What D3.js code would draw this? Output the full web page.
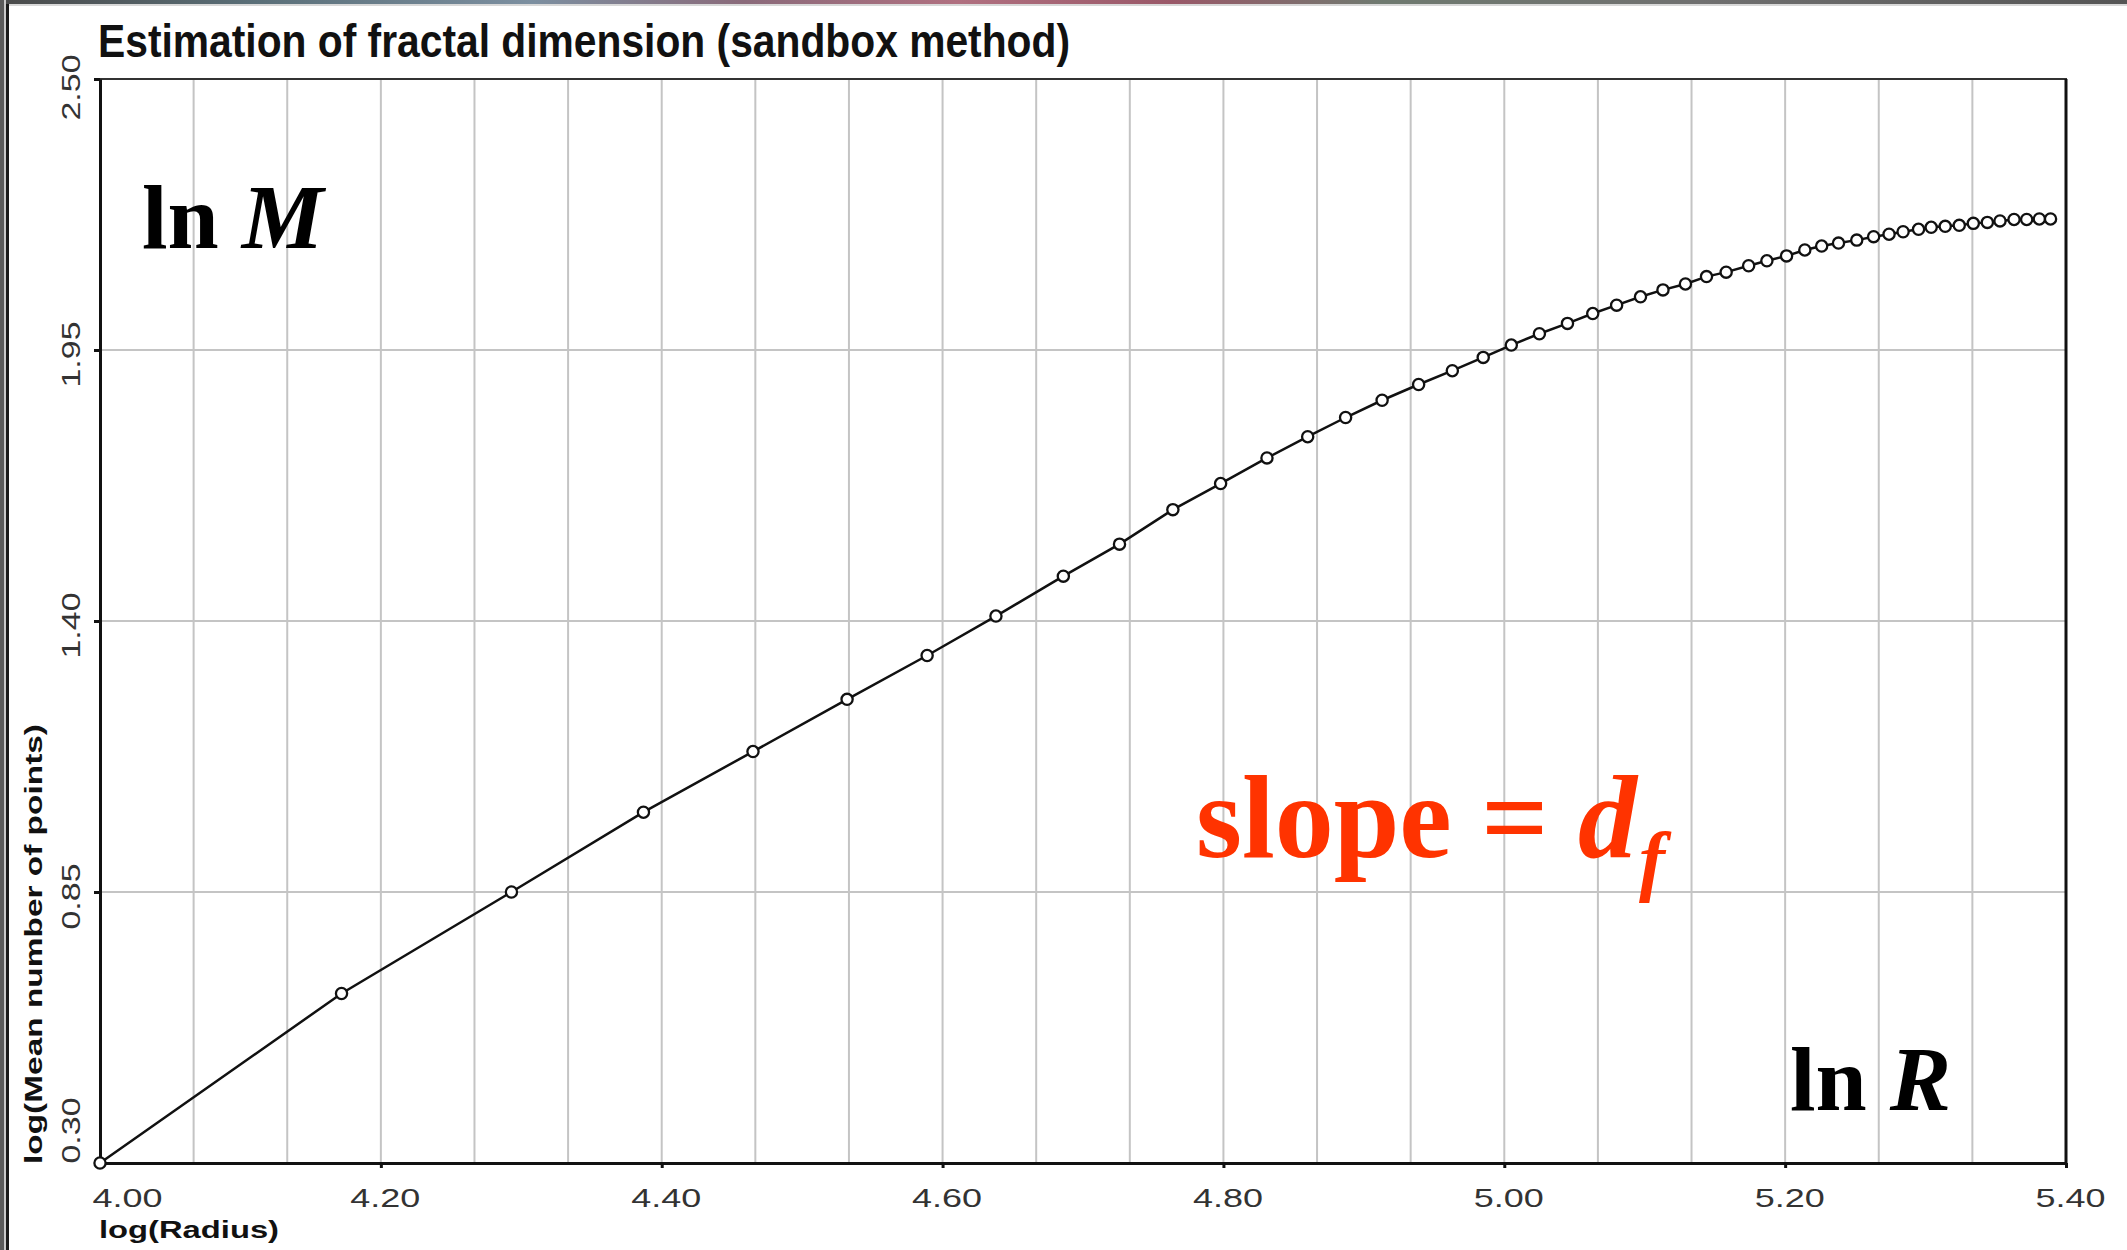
<!DOCTYPE html>
<html>
<head>
<meta charset="utf-8">
<script src="https://cdn.jsdelivr.net/npm/d3@7/dist/d3.min.js"></script>
<style>
  html, body { margin: 0; padding: 0; background: #ffffff; }
  svg { display: block; }
</style>
</head>
<body>
<svg id="chart" width="2127" height="1250"></svg>
<script>
// Sandbox-method estimate: log(Radius) vs log(Mean number of points)
const logRadius = [
  4.000, 4.172, 4.293, 4.387, 4.465, 4.532, 4.589, 4.638, 4.686, 4.726,
  4.764, 4.798, 4.831, 4.860, 4.887, 4.913, 4.939, 4.963, 4.985, 5.005,
  5.025, 5.045, 5.063, 5.080, 5.097, 5.113, 5.129, 5.144, 5.158, 5.174,
  5.187, 5.201, 5.214, 5.226, 5.238, 5.251, 5.263, 5.274, 5.284, 5.295,
  5.304, 5.314, 5.324, 5.334, 5.344, 5.353, 5.363, 5.372, 5.381, 5.389
];
const logMeanPoints = [
  0.300, 0.644, 0.850, 1.012, 1.135, 1.241, 1.330, 1.410, 1.491, 1.556,
  1.626, 1.679, 1.731, 1.774, 1.813, 1.848, 1.880, 1.908, 1.935, 1.960,
  1.983, 2.004, 2.024, 2.041, 2.058, 2.072, 2.084, 2.099, 2.108, 2.121,
  2.131, 2.141, 2.153, 2.161, 2.167, 2.173, 2.180, 2.185, 2.190, 2.195,
  2.199, 2.201, 2.203, 2.207, 2.209, 2.212, 2.215, 2.215, 2.216, 2.216
];
const xTickValues = [4.00, 4.20, 4.40, 4.60, 4.80, 5.00, 5.20, 5.40];
const yTickValues = [0.30, 0.85, 1.40, 1.95, 2.50];
const xDomain = [4.00, 5.40];
const yDomain = [0.30, 2.50];
const xGridStep = 0.2 / 3;

const chartTitle = "Estimation of fractal dimension (sandbox method)";
const xAxisTitle = "log(Radius)";
const yAxisTitle = "log(Mean number of points)";

const svg = d3.select("#chart");
const plot = { left: 100, right: 2066, top: 79, bottom: 1163 };

const x = d3.scaleLinear().domain(xDomain).range([plot.left, plot.right]);
const y = d3.scaleLinear().domain(yDomain).range([plot.bottom, plot.top]);

// window frame edges
const defs = svg.append("defs");
const strip = defs.append("linearGradient").attr("id", "strip");
[["0%", "#4a4a4a"], ["12%", "#5a6f78"], ["25%", "#7c8fa0"], ["35%", "#8a6a7a"],
 ["45%", "#b07080"], ["55%", "#9a5868"], ["65%", "#6f7a70"], ["80%", "#707070"], ["100%", "#555"]]
  .forEach(([o, c]) => strip.append("stop").attr("offset", o).attr("stop-color", c));
svg.append("rect").attr("x", 0).attr("y", 0).attr("width", 2127).attr("height", 4).attr("fill", "url(#strip)");
svg.append("rect").attr("x", 0).attr("y", 4).attr("width", 2127).attr("height", 2).attr("fill", "#d8d8d8");
svg.append("rect").attr("x", 0).attr("y", 0).attr("width", 4).attr("height", 1250).attr("fill", "#5a5a5a");
svg.append("rect").attr("x", 4).attr("y", 0).attr("width", 2).attr("height", 1250).attr("fill", "#c8c8c8");
svg.append("rect").attr("x", 6).attr("y", 4).attr("width", 3).attr("height", 1246).attr("fill", "#1a1a1a");

// grid
const grid = svg.append("g").attr("class", "grid");
const xGridValues = d3.range(1, Math.round((xDomain[1] - xDomain[0]) / xGridStep))
  .map(i => xDomain[0] + i * xGridStep);
grid.selectAll("line.vx").data(xGridValues).join("line")
  .attr("x1", d => x(d)).attr("x2", d => x(d))
  .attr("y1", plot.top).attr("y2", plot.bottom)
  .attr("stroke", "#c4c4c4").attr("stroke-width", 2);
grid.selectAll("line.hy").data(yTickValues.slice(1, -1)).join("line")
  .attr("x1", plot.left).attr("x2", plot.right)
  .attr("y1", d => y(d)).attr("y2", d => y(d))
  .attr("stroke", "#c4c4c4").attr("stroke-width", 2);

// frame
svg.append("line").attr("x1", plot.left).attr("x2", plot.right + 1)
  .attr("y1", plot.top).attr("y2", plot.top).attr("stroke", "#333").attr("stroke-width", 2);
svg.append("line").attr("x1", plot.right).attr("x2", plot.right)
  .attr("y1", plot.top).attr("y2", plot.bottom).attr("stroke", "#111").attr("stroke-width", 3);

// axes
const xAxis = d3.axisBottom(x).tickValues(xTickValues).tickSize(5).tickSizeOuter(0)
  .tickFormat(d3.format(".2f"));
const gx = svg.append("g").attr("transform", `translate(0,${plot.bottom})`).call(xAxis);
gx.select(".domain").attr("stroke", "#111").attr("stroke-width", 3);
gx.selectAll(".tick line").attr("stroke", "#111").attr("stroke-width", 3);
gx.selectAll(".tick text")
  .attr("y", 44).attr("dy", null)
  .attr("font-family", "'Liberation Sans', Arial, sans-serif")
  .attr("font-size", 25).attr("fill", "#333")
  .attr("textLength", 70).attr("lengthAdjust", "spacingAndGlyphs")
  .attr("dx", (d, i) => i === 0 ? 27 : 4);

const yAxis = d3.axisLeft(y).tickValues(yTickValues).tickSize(6).tickSizeOuter(0)
  .tickFormat(d3.format(".2f"));
const gy = svg.append("g").attr("transform", `translate(${plot.left},0)`).call(yAxis);
gy.select(".domain").attr("stroke", "#111").attr("stroke-width", 3);
gy.selectAll(".tick line").attr("stroke", "#111").attr("stroke-width", 3);
gy.selectAll(".tick text")
  .attr("x", null).attr("dy", null)
  .attr("transform", (d, i) => {
    const shift = i === 0 ? -33 : (i === yTickValues.length - 1 ? 8 : 4);
    return `translate(-20,${shift}) rotate(-90)`;
  })
  .attr("text-anchor", "middle")
  .attr("font-family", "'Liberation Sans', Arial, sans-serif")
  .attr("font-size", 25).attr("fill", "#333")
  .attr("textLength", 66).attr("lengthAdjust", "spacingAndGlyphs");

// series line and hollow markers
const data = logRadius.map((r, i) => ({ r, m: logMeanPoints[i] }));
svg.append("path").datum(data)
  .attr("fill", "none").attr("stroke", "#111").attr("stroke-width", 2.5)
  .attr("d", d3.line().x(d => x(d.r)).y(d => y(d.m)));
svg.append("g").selectAll("circle").data(data).join("circle")
  .attr("cx", d => x(d.r)).attr("cy", d => y(d.m)).attr("r", 5.6)
  .attr("fill", "#fff").attr("stroke", "#111").attr("stroke-width", 2.3);

// titles
svg.append("text").attr("x", 98).attr("y", 57)
  .attr("font-family", "'Liberation Sans Narrow', 'Liberation Sans', Arial, sans-serif")
  .attr("font-weight", "bold").attr("font-size", 46).attr("fill", "#111")
  .attr("textLength", 972).attr("lengthAdjust", "spacingAndGlyphs")
  .text(chartTitle);

svg.append("text").attr("x", 99).attr("y", 1238)
  .attr("font-family", "'Liberation Sans', Arial, sans-serif")
  .attr("font-weight", "bold").attr("font-size", 23).attr("fill", "#111")
  .attr("textLength", 180).attr("lengthAdjust", "spacingAndGlyphs")
  .text(xAxisTitle);

svg.append("text").attr("transform", "translate(42,944) rotate(-90)")
  .attr("text-anchor", "middle")
  .attr("font-family", "'Liberation Sans Narrow', 'Liberation Sans', Arial, sans-serif")
  .attr("font-weight", "bold").attr("font-size", 24).attr("fill", "#111")
  .attr("textLength", 440).attr("lengthAdjust", "spacingAndGlyphs")
  .text(yAxisTitle);

// annotations
const serif = "'Liberation Serif', 'Times New Roman', serif";
const lnM = svg.append("text").attr("x", 142).attr("y", 248)
  .attr("font-family", serif).attr("font-weight", "bold").attr("font-size", 92).attr("fill", "#000");
lnM.append("tspan").text("ln ");
lnM.append("tspan").attr("font-style", "italic").text("M");

const lnR = svg.append("text").attr("x", 1790).attr("y", 1110)
  .attr("font-family", serif).attr("font-weight", "bold").attr("font-size", 92).attr("fill", "#000");
lnR.append("tspan").text("ln ");
lnR.append("tspan").attr("font-style", "italic").text("R");

const slope = svg.append("text").attr("x", 1196).attr("y", 857)
  .attr("font-family", serif).attr("font-weight", "bold").attr("font-size", 118).attr("fill", "#ff3300");
slope.append("tspan").text("slope = ");
slope.append("tspan").attr("font-style", "italic").text("d");
slope.append("tspan").attr("font-style", "italic").attr("font-size", 78).attr("dy", 29).attr("dx", 2).text("f");
</script>
</body>
</html>
